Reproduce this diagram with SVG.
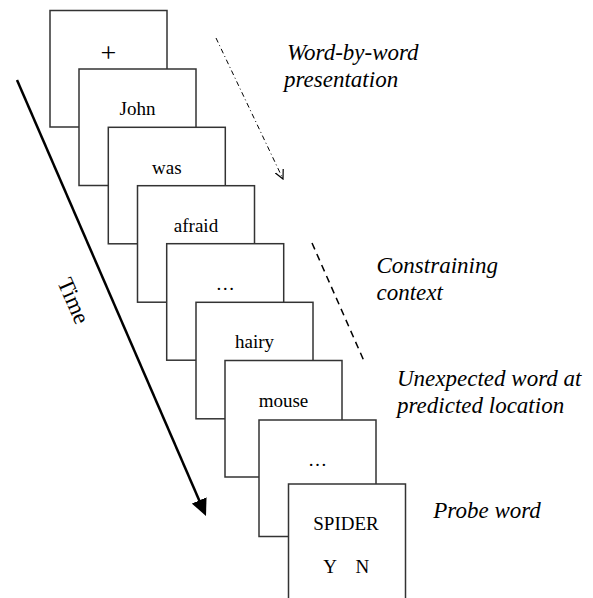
<svg xmlns="http://www.w3.org/2000/svg" width="593" height="598" viewBox="0 0 593 598">
  <style>
    .card { fill: #ffffff; stroke: #333333; stroke-width: 1.5; }
    .word { font-family: "Liberation Serif", "Times New Roman", serif; font-size: 19px; fill: #000000; text-anchor: middle; }
    .label { font-family: "Liberation Serif", "Times New Roman", serif; font-size: 23px; font-style: italic; fill: #000000; }
    .time { font-family: "Liberation Serif", "Times New Roman", serif; font-size: 23px; fill: #000000; text-anchor: middle; }
  </style>
  <defs>
    <marker id="solidHead" markerUnits="userSpaceOnUse" viewBox="0 0 17 16" refX="7" refY="8" markerWidth="17" markerHeight="16" orient="auto">
      <path d="M0,0 L17,8 L0,16 z" fill="#000000"/>
    </marker>
    <marker id="openHead" markerUnits="userSpaceOnUse" viewBox="0 0 10 10" refX="9" refY="5" markerWidth="10" markerHeight="10" orient="auto">
      <path d="M0,0.5 L9,5 L0,9.5" fill="none" stroke="#000000" stroke-width="1.2"/>
    </marker>
  </defs>

  <rect width="593" height="598" fill="#ffffff"/>

  <g id="card-fixation">
    <rect class="card" x="50" y="10.5" width="117" height="116.5"/>
    <text class="word" x="108.5" y="62" style="font-size:28px">+</text>
  </g>
  <g id="card-john">
    <rect class="card" x="79" y="69" width="117" height="116.5"/>
    <text class="word" x="137.5" y="115">John</text>
  </g>
  <g id="card-was">
    <rect class="card" x="108.3" y="127.3" width="117" height="116.5"/>
    <text class="word" x="166.8" y="173.5">was</text>
  </g>
  <g id="card-afraid">
    <rect class="card" x="137.5" y="185.7" width="117" height="116.5"/>
    <text class="word" x="196" y="231.7">afraid</text>
  </g>
  <g id="card-ellipsis1">
    <rect class="card" x="166.7" y="243.7" width="117" height="116.5"/>
    <text class="word" x="225.2" y="289.7">…</text>
  </g>
  <g id="card-hairy">
    <rect class="card" x="196" y="302.3" width="117" height="116.5"/>
    <text class="word" x="254.5" y="348">hairy</text>
  </g>
  <g id="card-mouse">
    <rect class="card" x="225" y="360.5" width="117" height="116.5"/>
    <text class="word" x="283.5" y="406.5">mouse</text>
  </g>
  <g id="card-ellipsis2">
    <rect class="card" x="259" y="420" width="117" height="116.5"/>
    <text class="word" x="317.5" y="466">…</text>
  </g>
  <g id="card-probe">
    <rect class="card" x="288.5" y="484" width="117" height="116.5"/>
    <text class="word" x="346" y="530">SPIDER</text>
    <text class="word" x="330" y="573.3">Y</text>
    <text class="word" x="362.3" y="573.3">N</text>
  </g>

  <g id="connectors">
    <line x1="17" y1="80" x2="202" y2="506.8" stroke="#000000" stroke-width="2.5" marker-end="url(#solidHead)"/>
    <line x1="216" y1="38" x2="283" y2="179" stroke="#000000" stroke-width="1" stroke-dasharray="5 3 1 3" marker-end="url(#openHead)"/>
    <line x1="312" y1="243" x2="364" y2="361" stroke="#000000" stroke-width="1.5" stroke-dasharray="7 5"/>
  </g>

  <g id="labels">
    <text class="time" transform="translate(73,301) rotate(66.6)" y="7">Time</text>
    <text class="label" x="287" y="60">Word-by-word</text>
    <text class="label" x="284" y="86.7">presentation</text>
    <text class="label" x="376.5" y="273">Constraining</text>
    <text class="label" x="376.5" y="300">context</text>
    <text class="label" x="397" y="385.7">Unexpected word at</text>
    <text class="label" x="397" y="413.3">predicted location</text>
    <text class="label" x="433.3" y="518.3">Probe word</text>
  </g>
</svg>
